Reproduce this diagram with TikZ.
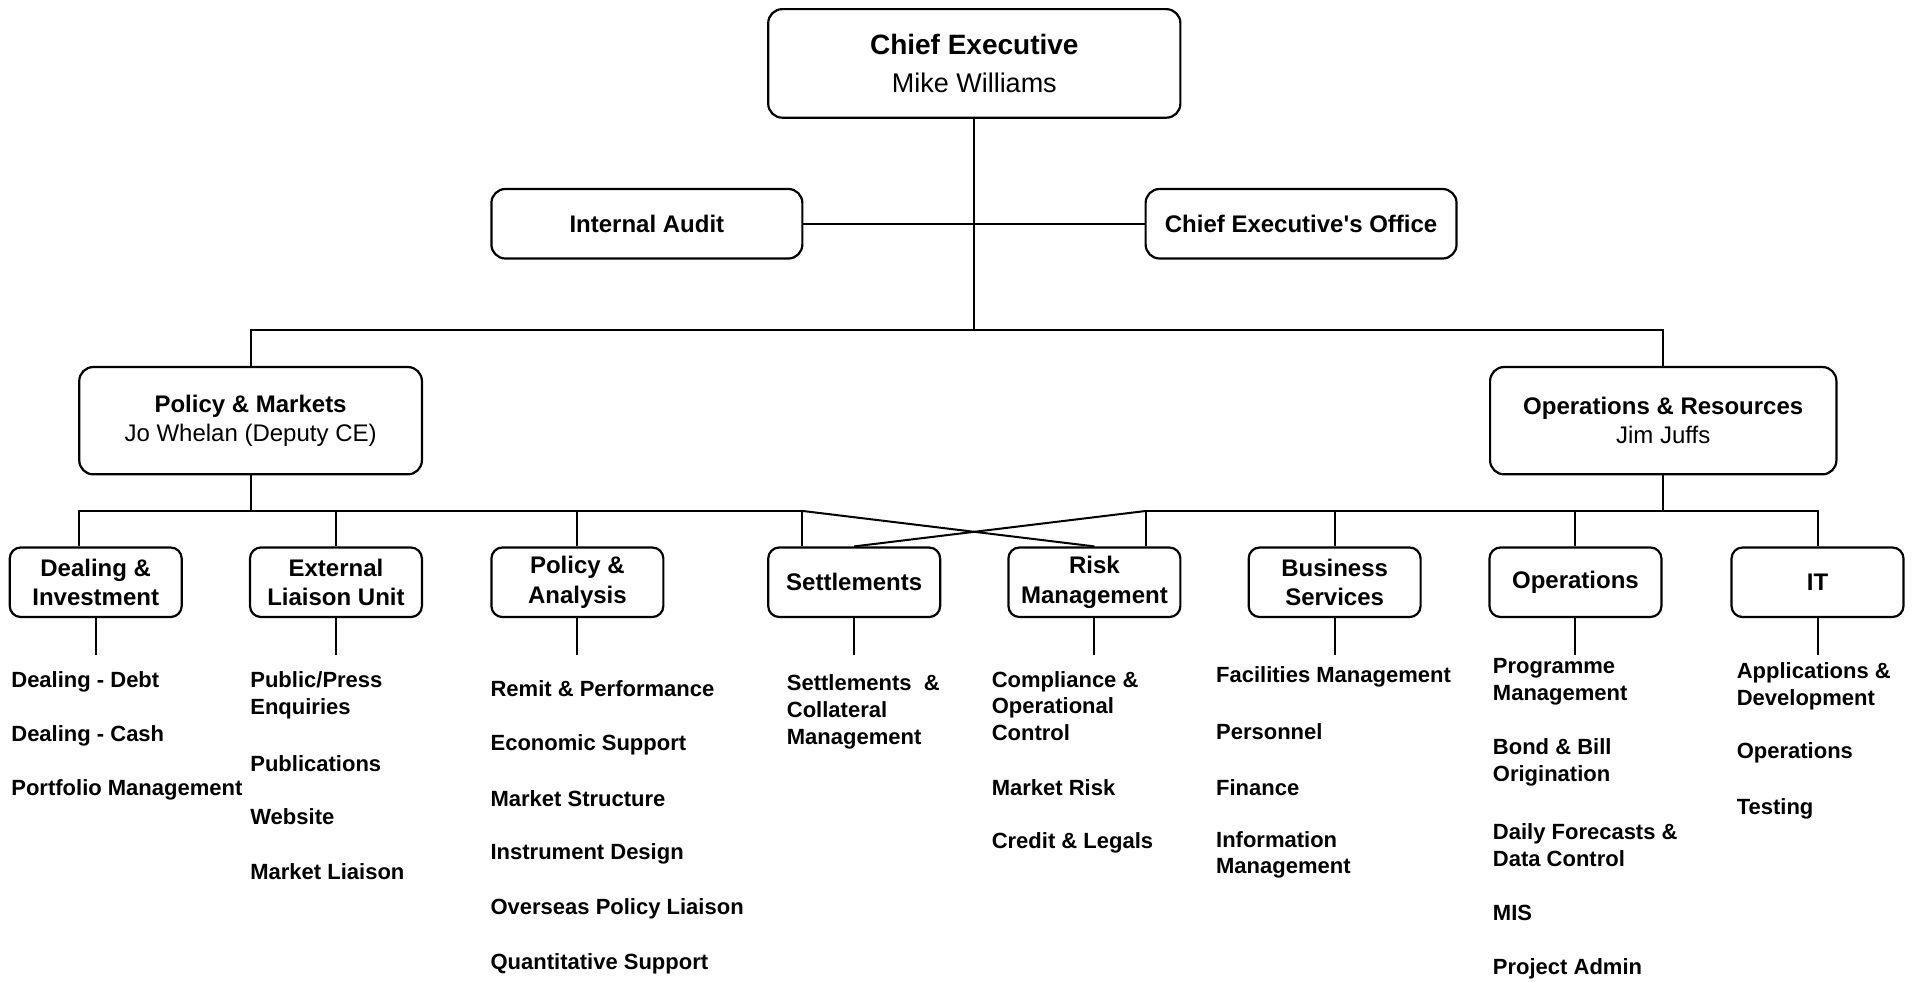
\documentclass[tikz,border=0pt]{standalone}
\usepackage{fontspec}
\setmainfont{Liberation Sans}
\usetikzlibrary{calc}

\begin{document}
\begin{tikzpicture}[x=0.6097pt, y=-0.6097pt,
		link/.style={line width=1pt},
		bigbox/.style={draw, line width=1.1pt, rounded corners=7pt, inner sep=0pt, align=center, font=\fontsize{12}{14.6}\selectfont},
		unitbox/.style={draw, line width=1.1pt, rounded corners=5.5pt, inner sep=0pt, align=center, minimum width=141*0.6097pt, minimum height=57*0.6097pt, font=\fontsize{12}{14.6}\selectfont\bfseries},
		item/.style={anchor=west, align=left, inner sep=0pt, font=\fontsize{11}{13.4}\selectfont\bfseries}]
			\def\px{0.6097pt}
			\useasboundingbox (0,0) rectangle (1568,805);
			
			% Top of the tree
			\node[bigbox, minimum width=338*\px, minimum height=89*\px, font=\fontsize{13.5}{19}\selectfont] (ce) at (799,52) {{\fontsize{14}{19}\selectfont\bfseries Chief Executive}\\Mike Williams};
			\node[bigbox, minimum width=255*\px, minimum height=57*\px, font=\fontsize{12}{14.6}\selectfont\bfseries] (audit) at (530.5,183.5) {Internal Audit};
			\node[bigbox, minimum width=255*\px, minimum height=57*\px, font=\fontsize{12}{14.6}\selectfont\bfseries] (office) at (1067,183.5) {Chief Executive\textquotesingle s Office};
			
			% Directors
			\node[bigbox, minimum width=281*\px, minimum height=88*\px] (pm) at (205.5,345) {\textbf{Policy \& Markets}\\Jo Whelan (Deputy CE)};
			\node[bigbox, minimum width=284*\px, minimum height=88*\px] (opres) at (1364,345) {\textbf{Operations \& Resources}\\Jim Juffs};
			
			% Units
			\node[unitbox] (deal) at (78.5,477.5) {Dealing \&\\Investment};
			\node[unitbox] (ext) at (275.5,477.5) {External\\Liaison Unit};
			\node[unitbox] (polan) at (473.5,477.5) {Policy \&\\Analysis};
			\node[unitbox] (settle) at (700.5,477.5) {Settlements};
			\node[unitbox] (risk) at (897.5,477.5) {Risk\\Management};
			\node[unitbox] (busserv) at (1094.5,477.5) {Business\\Services};
			\node[unitbox] (ops) at (1292,477.5) {Operations};
			\node[unitbox] (it) at (1490.5,477.5) {IT};
			
			% Draw top links
			\coordinate (bus) at (0,271);
			\draw[link] (ce.south) -- (ce.south |- bus);
			\draw[link] (audit.east) -- (office.west);
			\draw[link] (pm.north) -- (pm.north |- bus) -- (opres.north |- bus) -- (opres.north);
			
			% Draw unit links
			\coordinate (lbus) at (65,419);
			\coordinate (lend) at (658,419);
			\coordinate (rbus) at (940,419);
			\draw[link] (pm.south) -- (pm.south |- lbus);
			\draw[link] (lbus |- deal.north) -- (lbus) -- (lend) -- (lend |- settle.north);
			\draw[link] (ext.north |- lbus) -- (ext.north);
			\draw[link] (polan.north |- lbus) -- (polan.north);
			\draw[link] (lend) -- (risk.north);
			\draw[link] (opres.south) -- (opres.south |- rbus);
			\draw[link] (rbus |- risk.north) -- (rbus) -- (it.north |- rbus) -- (it.north);
			\draw[link] (rbus) -- (settle.north);
			\draw[link] (busserv.north |- rbus) -- (busserv.north);
			\draw[link] (ops.north |- rbus) -- (ops.north);
			
			% Stubs under units
			\draw[link] (deal.south) -- ++(0,30);
			\draw[link] (ext.south) -- ++(0,30);
			\draw[link] (polan.south) -- ++(0,30);
			\draw[link] (settle.south) -- ++(0,30);
			\draw[link] (risk.south) -- ++(0,30);
			\draw[link] (busserv.south) -- ++(0,30);
			\draw[link] (ops.south) -- ++(0,30);
			\draw[link] (it.south) -- ++(0,30);
			
			% Sections
			\node[item] (deal1) at (9,559.5) {Dealing - Debt};
			\node[item] (deal2) at (9,603.6) {Dealing - Cash};
			\node[item] (deal3) at (9,648) {Portfolio Management};
			
			\node[item] (ext1) at (205,570) {Public/Press\\Enquiries};
			\node[item] (ext2) at (205,626) {Publications};
			\node[item] (ext3) at (205,670) {Website};
			\node[item] (ext4) at (205,715) {Market Liaison};
			
			\node[item] (polan1) at (402,565) {Remit \& Performance};
			\node[item] (polan2) at (402,611) {Economic Support};
			\node[item] (polan3) at (402,655) {Market Structure};
			\node[item] (polan4) at (402,700) {Instrument Design};
			\node[item] (polan5) at (402,745.6) {Overseas Policy Liaison};
			\node[item] (polan6) at (402,790) {Quantitative Support};
			
			\node[item] (settle1) at (645,584) {Settlements\ \ \&\\Collateral\\Management};
			
			\node[item] (risk1) at (813,579) {Compliance \&\\Operational\\Control};
			\node[item] (risk2) at (813,645.6) {Market Risk};
			\node[item] (risk3) at (813,691.5) {Credit \& Legals};
			
			\node[item] (busserv1) at (997,555) {Facilities Management};
			\node[item] (busserv2) at (997,600) {Personnel};
			\node[item] (busserv3) at (997,645.6) {Finance};
			\node[item] (busserv4) at (997,701) {Information\\Management};
			
			\node[item] (ops1) at (1224,559) {Programme\\Management};
			\node[item] (ops2) at (1224,625.5) {Bond \& Bill\\Origination};
			\node[item] (ops3) at (1224,693.4) {Daily Forecasts \&\\Data Control};
			\node[item] (ops4) at (1224,749) {MIS};
			\node[item] (ops5) at (1224,794.6) {Project Admin};
			
			\node[item] (it1) at (1424,563) {Applications \&\\Development};
			\node[item] (it2) at (1424,617.6) {Operations};
			\node[item] (it3) at (1424,663.6) {Testing};
		\end{tikzpicture}
\end{document}
